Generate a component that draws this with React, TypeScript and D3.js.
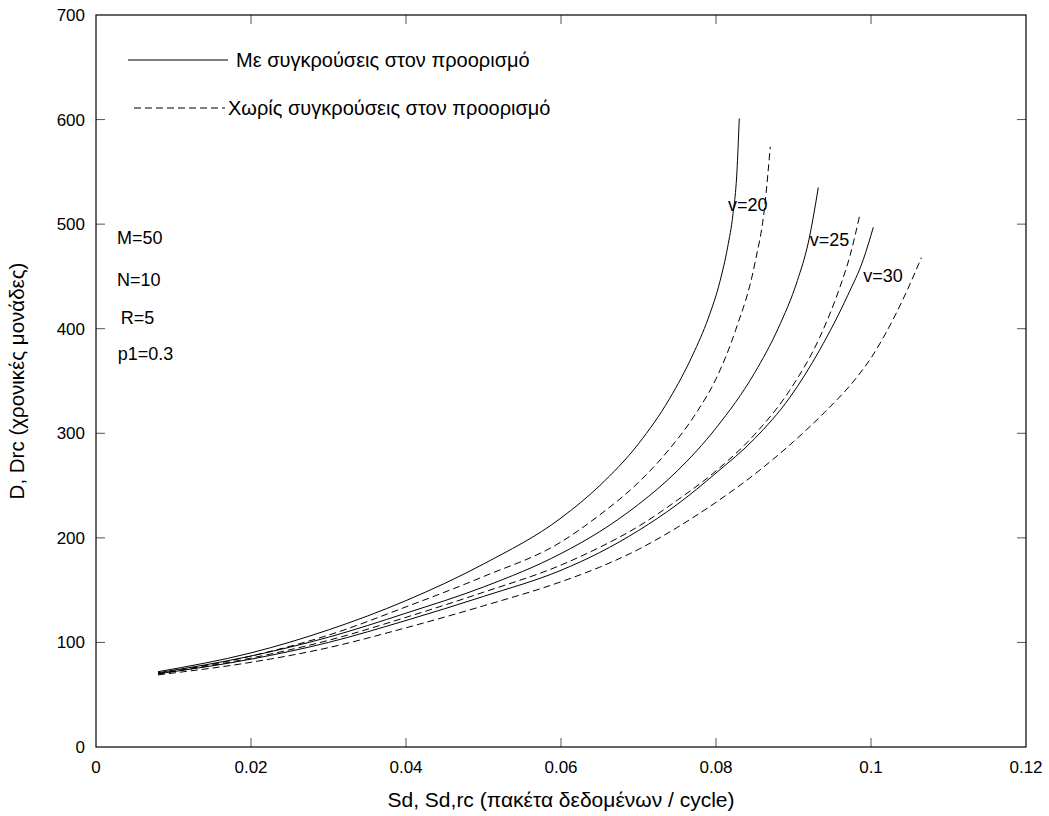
import React from 'react';
import * as d3 from 'd3';

type Pt = [number, number];

// curves: [Sd, D]
const solidV20: Pt[] = [[0.008, 72], [0.02, 90], [0.03, 112], [0.04, 140], [0.05, 175], [0.06, 219], [0.065, 250], [0.07, 290], [0.074, 333], [0.077, 375], [0.079, 410], [0.0805, 445], [0.0815, 478], [0.0822, 510], [0.0827, 550], [0.083, 601]];
const dashedV20: Pt[] = [[0.008, 70], [0.02, 87], [0.03, 107], [0.04, 134], [0.05, 163], [0.06, 196], [0.065, 222], [0.07, 253], [0.074, 285], [0.0775, 320], [0.08, 352], [0.0825, 398], [0.085, 462], [0.0863, 518], [0.087, 574]];
const solidV25: Pt[] = [[0.008, 71], [0.02, 87], [0.03, 105], [0.04, 128], [0.05, 153], [0.06, 185], [0.065, 206], [0.07, 232], [0.075, 264], [0.08, 305], [0.085, 358], [0.088, 400], [0.0905, 446], [0.0919, 482], [0.0932, 535]];
const dashedV25: Pt[] = [[0.008, 70], [0.02, 85], [0.03, 102], [0.04, 124], [0.05, 148], [0.06, 174], [0.065, 191], [0.07, 211], [0.075, 236], [0.08, 264], [0.085, 299], [0.0895, 341], [0.0934, 392], [0.096, 440], [0.0973, 470], [0.0985, 507]];
const solidV30: Pt[] = [[0.008, 70], [0.02, 84], [0.03, 100], [0.04, 121], [0.05, 144], [0.06, 169], [0.065, 186], [0.07, 207], [0.075, 232], [0.08, 262], [0.085, 295], [0.0895, 334], [0.0934, 380], [0.097, 432], [0.099, 466], [0.1003, 497]];
const dashedV30: Pt[] = [[0.008, 69], [0.02, 81], [0.03, 95], [0.04, 114], [0.05, 135], [0.06, 158], [0.065, 172], [0.07, 189], [0.075, 210], [0.08, 234], [0.085, 261], [0.09, 292], [0.094, 320], [0.098, 352], [0.1, 372], [0.102, 397], [0.1045, 434], [0.1065, 468]];

const xTicks = [0, 0.02, 0.04, 0.06, 0.08, 0.1, 0.12];
const yTicks = [0, 100, 200, 300, 400, 500, 600, 700];
const xTickLabels = ['0', '0.02', '0.04', '0.06', '0.08', '0.1', '0.12'];

const curveLabels: { text: string; x: number; y: number }[] = [
  { text: 'v=20', x: 0.08155, y: 519 },
  { text: 'v=25', x: 0.0921, y: 485 },
  { text: 'v=30', x: 0.099, y: 451 },
];
const params = ['M=50', 'N=10', 'R=5', 'p1=0.3'];
const paramY = [487, 447, 411, 376];
const paramX = [0.0027, 0.0027, 0.0032, 0.0028];

const legendSolid = 'Με συγκρούσεις στον προορισμό';
const legendDashed = 'Χωρίς συγκρούσεις στον προορισμό';

const W = 1049;
const H = 816;
const left = 96, right = 1026, top = 15, bottom = 747;

const App = () => {
  const x = d3.scaleLinear().domain([0, 0.12]).range([left, right]);
  const y = d3.scaleLinear().domain([0, 700]).range([bottom, top]);

  const line = d3.line<Pt>()
    .x(d => x(d[0]))
    .y(d => y(d[1]))
    .curve(d3.curveMonotoneX);

  const solids = [solidV20, solidV25, solidV30];
  const dashes = [dashedV20, dashedV25, dashedV30];
  const font = 'Liberation Sans, Arial, sans-serif';
  const tickLen = 9;

  return (
    <svg width={W} height={H} style={{ position: 'absolute', left: 0, top: 0, background: '#fff' }} fontFamily={font}>
      <rect x={0} y={0} width={W} height={H} fill="#fff" />

      {/* ticks on all four sides */}
      {xTicks.slice(1, -1).map(t => (
        <g key={'xt' + t} stroke="#555" strokeWidth={1}>
          <line x1={x(t)} x2={x(t)} y1={bottom} y2={bottom - tickLen} />
          <line x1={x(t)} x2={x(t)} y1={top} y2={top + tickLen} />
        </g>
      ))}
      {yTicks.slice(1, -1).map(t => (
        <g key={'yt' + t} stroke="#555" strokeWidth={1}>
          <line x1={left} x2={left + tickLen} y1={y(t)} y2={y(t)} />
          <line x1={right} x2={right - tickLen} y1={y(t)} y2={y(t)} />
        </g>
      ))}

      <rect x={left} y={top} width={right - left} height={bottom - top} fill="none" stroke="#000" strokeWidth={1.2} />

      {xTicks.map((t, i) => (
        <text key={'xl' + t} x={x(t)} y={bottom + 26} textAnchor="middle" fontSize={17}>{xTickLabels[i]}</text>
      ))}
      {yTicks.map(t => (
        <text key={'yl' + t} x={left - 11} y={y(t) + 6} textAnchor="end" fontSize={17}>{t}</text>
      ))}

      <text x={561} y={807} textAnchor="middle" fontSize={21}>Sd, Sd,rc (πακέτα δεδομένων / cycle)</text>
      <text transform={`translate(24,381) rotate(-90)`} textAnchor="middle" fontSize={20.5}>D, Drc (χρονικές μονάδες)</text>

      {solids.map((d, i) => (
        <path key={'s' + i} d={line(d) || ''} fill="none" stroke="#000" strokeWidth={1} />
      ))}
      {dashes.map((d, i) => (
        <path key={'d' + i} d={line(d) || ''} fill="none" stroke="#000" strokeWidth={1} strokeDasharray="7,4" />
      ))}

      {curveLabels.map(l => (
        <text key={l.text} x={x(l.x)} y={y(l.y) + 6.5} fontSize={18}>{l.text}</text>
      ))}
      {params.map((p, i) => (
        <text key={p} x={x(paramX[i])} y={y(paramY[i]) + 6.5} fontSize={18}>{p}</text>
      ))}

      {/* legend */}
      <line x1={128} x2={228} y1={60} y2={60} stroke="#000" strokeWidth={1} />
      <text x={236} y={67} fontSize={20}>{legendSolid}</text>
      <line x1={134} x2={225} y1={108} y2={108} stroke="#000" strokeWidth={1} strokeDasharray="7,4" />
      <text x={228} y={115} fontSize={20}>{legendDashed}</text>
    </svg>
  );
};

export default App;
